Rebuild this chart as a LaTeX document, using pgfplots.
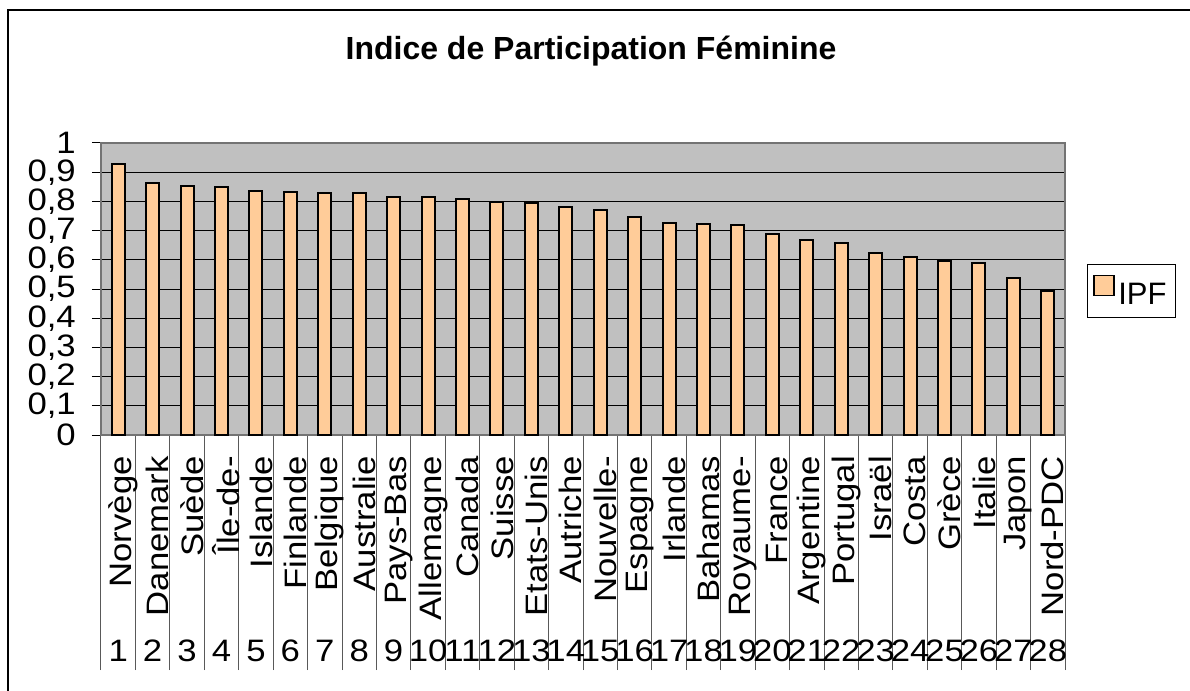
\documentclass[border=0pt]{standalone}
\usepackage{fontspec}
\setmainfont{Liberation Sans}
\newfontfamily\tickfont[FakeStretch=1.12]{Liberation Sans}
\usepackage{pgfplots}
\pgfplotsset{compat=1.18}
\definecolor{barfill}{HTML}{FFCC99}
\definecolor{plotbg}{HTML}{C0C0C0}
\newcommand{\tf}{\tickfont\fontsize{31}{36}\selectfont}
\begin{document}
\begin{tikzpicture}
\path[use as bounding box] (-101pt,-255pt) rectangle (1089pt,435pt);
\draw[line width=2pt] (-93pt,-260pt) -- (-93pt,425pt) -- (1095pt,425pt);
\begin{axis}[
  at={(0pt,0pt)}, anchor=south west,
  scale only axis, width=964pt, height=292pt,
  clip=false,
  xmin=0.5, xmax=28.5, ymin=0, ymax=1,
  axis background/.style={fill=plotbg},
  axis line style={draw=black!55, line width=2pt},
  ytick={0,0.1,...,1.01},
  xtick pos=lower, ytick pos=left,
  ymajorgrids, grid style={black, line width=0.9pt},
  tick align=outside,
  major tick length=9pt,
  ytick style={black, line width=1pt},
  yticklabel style={font=\tf, inner sep=0pt, xshift=-16pt},
  /pgf/number format/.cd, use comma, fixed, precision=1, assume math mode=true,
  /pgfplots/.cd,
  xtick={1,...,28},
  xtick style={draw=none},
  minor xtick={0.5,1.5,...,28.6},
  minor tick length=235pt,
  minor x tick style={draw=black!65, line width=1pt},
  xticklabels={Norvège,Danemark,Suède,Île-de-,Islande,Finlande,Belgique,Australie,Pays-Bas,Allemagne,Canada,Suisse,Etats-Unis,Autriche,Nouvelle-,Espagne,Irlande,Bahamas,Royaume-,France,Argentine,Portugal,Israël,Costa,Grèce,Italie,Japon,Nord-PDC},
  xticklabel style={font=\tf, xshift=5pt, yshift=-12pt, rotate=90, anchor=east, inner sep=0pt},
  title={Indice de Participation Féminine},
  title style={at={(axis description cs:0.5083,1.2945)}, anchor=center, font=\bfseries\fontsize{32}{37}\selectfont},
  legend style={at={(axis description cs:1.0228,0.5856)}, anchor=north west, draw=black, line width=1pt,
    font=\fontsize{31}{36}\selectfont, inner xsep=6pt, inner ysep=10pt, fill=white,
    nodes={inner xsep=3pt, inner ysep=2pt}},
]
\addplot[ybar, bar width=13pt, fill=barfill, draw=black, line width=2pt, forget plot] coordinates {
(1,0.929) (2,0.862) (3,0.853) (4,0.849) (5,0.834) (6,0.833) (7,0.830)
(8,0.828) (9,0.815) (10,0.814) (11,0.808) (12,0.797) (13,0.795) (14,0.781)
(15,0.771) (16,0.747) (17,0.726) (18,0.722) (19,0.718) (20,0.687) (21,0.668)
(22,0.658) (23,0.623) (24,0.609) (25,0.597) (26,0.590) (27,0.537) (28,0.493)
};
\addlegendimage{legend image code/.code={\draw[fill=barfill, draw=black, line width=1.8pt] (0pt,-1pt) rectangle (20pt,19pt);}}
\addlegendentry{IPF}
\pgfplotsinvokeforeach{1,...,28}{
  \node[font=\tf, anchor=center, inner sep=0pt] at (axis cs:#1,0) [yshift=-216pt] {#1};
}
\end{axis}
\end{tikzpicture}
\end{document}
